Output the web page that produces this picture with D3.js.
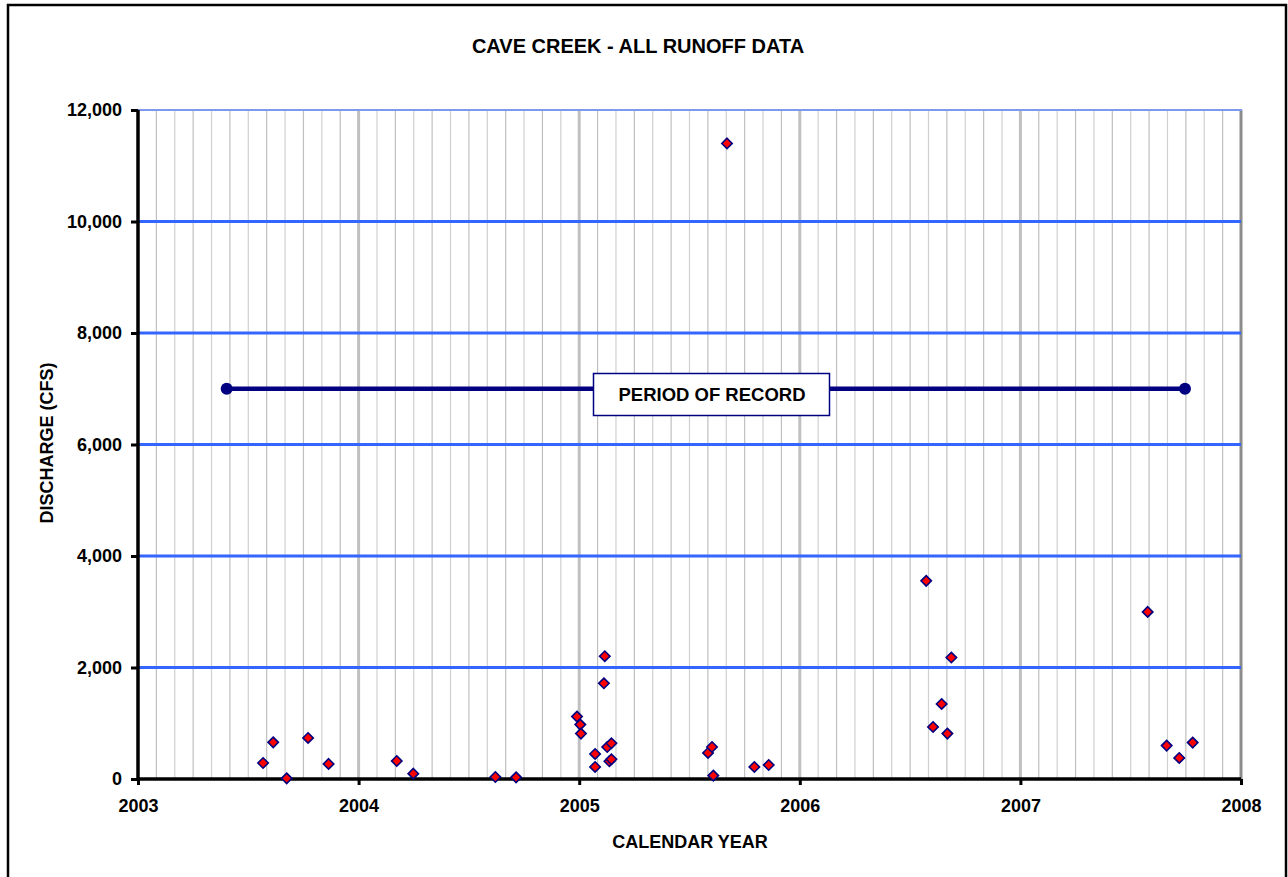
<!DOCTYPE html>
<html><head><meta charset="utf-8">
<script src="https://cdn.jsdelivr.net/npm/d3@7"></script>
<style>body{margin:0;background:#fff;} text{font-family:"Liberation Sans",Arial,sans-serif;font-weight:bold;fill:#000;}</style>
</head><body>
<script>
const dates = [2003.567,2003.613,2003.674,2003.771,2003.864,2004.173,2004.248,2004.620,2004.714,
  2004.990,2005.005,2005.008,2005.072,2005.072,2005.112,2005.116,2005.127,2005.137,2005.146,2005.146,
  2005.584,2005.602,2005.608,2005.670,2005.794,2005.859,
  2006.573,2006.604,2006.643,2006.669,2006.687,
  2007.577,2007.663,2007.720,2007.781];
const discharge = [287,658,12,736,270,323,96,36,30,
  1120,976,815,449,216,1717,2202,574,318,641,354,
  467,574,61,11400,216,251,
  3554,933,1346,815,2179,
  2997,599,377,653];
const periodStart = 2003.402, periodEnd = 2007.746, periodValue = 7000;
const yTicks = [0,2000,4000,6000,8000,10000,12000];
const xTicks = [2003,2004,2005,2006,2007,2008];
const title = "CAVE CREEK - ALL RUNOFF DATA";
const xTitle = "CALENDAR YEAR", yTitle = "DISCHARGE (CFS)", periodLabel = "PERIOD OF RECORD";

const W=1288,H=877;
const svg=d3.select("body").append("svg").attr("width",W).attr("height",H);
const x=d3.scaleLinear().domain([2003,2008]).range([138,1241]);
const y=d3.scaleLinear().domain([0,12000]).range([779,110]);

svg.append("rect").attr("x",8).attr("y",5).attr("width",1278).attr("height",H+20).attr("fill","none").attr("stroke","#000").attr("stroke-width",2.5);

// minor month grid
const months=[];
for(let yr=2003;yr<2008;yr++) for(let m=1;m<12;m++) months.push(yr+m/12);
svg.selectAll(".mg").data(months).enter().append("line")
  .attr("x1",d=>x(d)).attr("x2",d=>x(d)).attr("y1",y(12000)).attr("y2",y(0))
  .attr("stroke",(d,i)=>i%2?"#d0d0d0":"#bfbfbf").attr("stroke-width",1.2);
svg.selectAll(".yg").data([2004,2005,2006,2007]).enter().append("line")
  .attr("x1",d=>x(d)).attr("x2",d=>x(d)).attr("y1",y(12000)).attr("y2",y(0))
  .attr("stroke","#c0c0c0").attr("stroke-width",3);
svg.append("line").attr("x1",x(2008)).attr("x2",x(2008)).attr("y1",y(12000)).attr("y2",y(0))
  .attr("stroke","#8c8c8c").attr("stroke-width",3);
svg.selectAll(".hg").data(yTicks.filter(d=>d>0&&d<12000)).enter().append("line")
  .attr("x1",x(2003)).attr("x2",x(2008)).attr("y1",d=>y(d)).attr("y2",d=>y(d))
  .attr("stroke","#3366ff").attr("stroke-width",3);
svg.append("line").attr("x1",x(2003)).attr("x2",x(2008)+1).attr("y1",y(12000)).attr("y2",y(12000))
  .attr("stroke","#7f98f0").attr("stroke-width",2);

// axes
const yAxis=d3.axisLeft(y).tickValues(yTicks).tickSize(7).tickPadding(9).tickFormat(d3.format(","));
const gy=svg.append("g").attr("transform",`translate(${x(2003)},0)`).call(yAxis);
const xAxis=d3.axisBottom(x).tickValues(xTicks).tickSize(6).tickPadding(14).tickFormat(d3.format("d"));
const gx=svg.append("g").attr("transform",`translate(0,${y(0)})`).call(xAxis);
[gx,gy].forEach(g=>{
  g.select(".domain").attr("stroke","#000").attr("stroke-width",3.5);
  g.selectAll(".tick line").attr("stroke","#000").attr("stroke-width",3);
  g.selectAll(".tick text").style("font-size","18px").style("font-family","Liberation Sans, Arial").style("font-weight","bold").attr("fill","#000");
});
gy.select(".domain").attr("d",`M0,${y(0)}V${y(12000)}`);
gx.select(".domain").attr("d",`M${x(2003)},0H${x(2008)}`);

// period of record
svg.append("line").attr("x1",x(periodStart)).attr("x2",x(periodEnd)).attr("y1",y(periodValue)).attr("y2",y(periodValue))
  .attr("stroke","#000080").attr("stroke-width",4.5);
svg.selectAll(".pc").data([periodStart,periodEnd]).enter().append("circle")
  .attr("cx",d=>x(d)).attr("cy",y(periodValue)).attr("r",6).attr("fill","#000080");
svg.append("rect").attr("x",593.5).attr("y",373.5).attr("width",236).attr("height",42)
  .attr("fill","#fff").attr("stroke","#000080").attr("stroke-width",1.5);
svg.append("text").attr("x",712).attr("y",401).attr("text-anchor","middle").style("font-size","18.5px").text(periodLabel);

// points
const s=5.2;
svg.selectAll(".pt").data(dates.map((d,i)=>[d,discharge[i]])).enter().append("path")
  .attr("d",d=>`M${x(d[0])},${y(d[1])-s}L${x(d[0])+s},${y(d[1])}L${x(d[0])},${y(d[1])+s}L${x(d[0])-s},${y(d[1])}Z`)
  .attr("fill","#ff0000").attr("stroke","#000080").attr("stroke-width",1.6);

// titles
svg.append("text").attr("x",638).attr("y",53).attr("text-anchor","middle").style("font-size","20px").text(title);
svg.append("text").attr("x",690).attr("y",848).attr("text-anchor","middle").style("font-size","18px").text(xTitle);
svg.append("text").attr("transform","translate(53,443) rotate(-90)").attr("text-anchor","middle").style("font-size","18px").text(yTitle);
</script>
</body></html>
